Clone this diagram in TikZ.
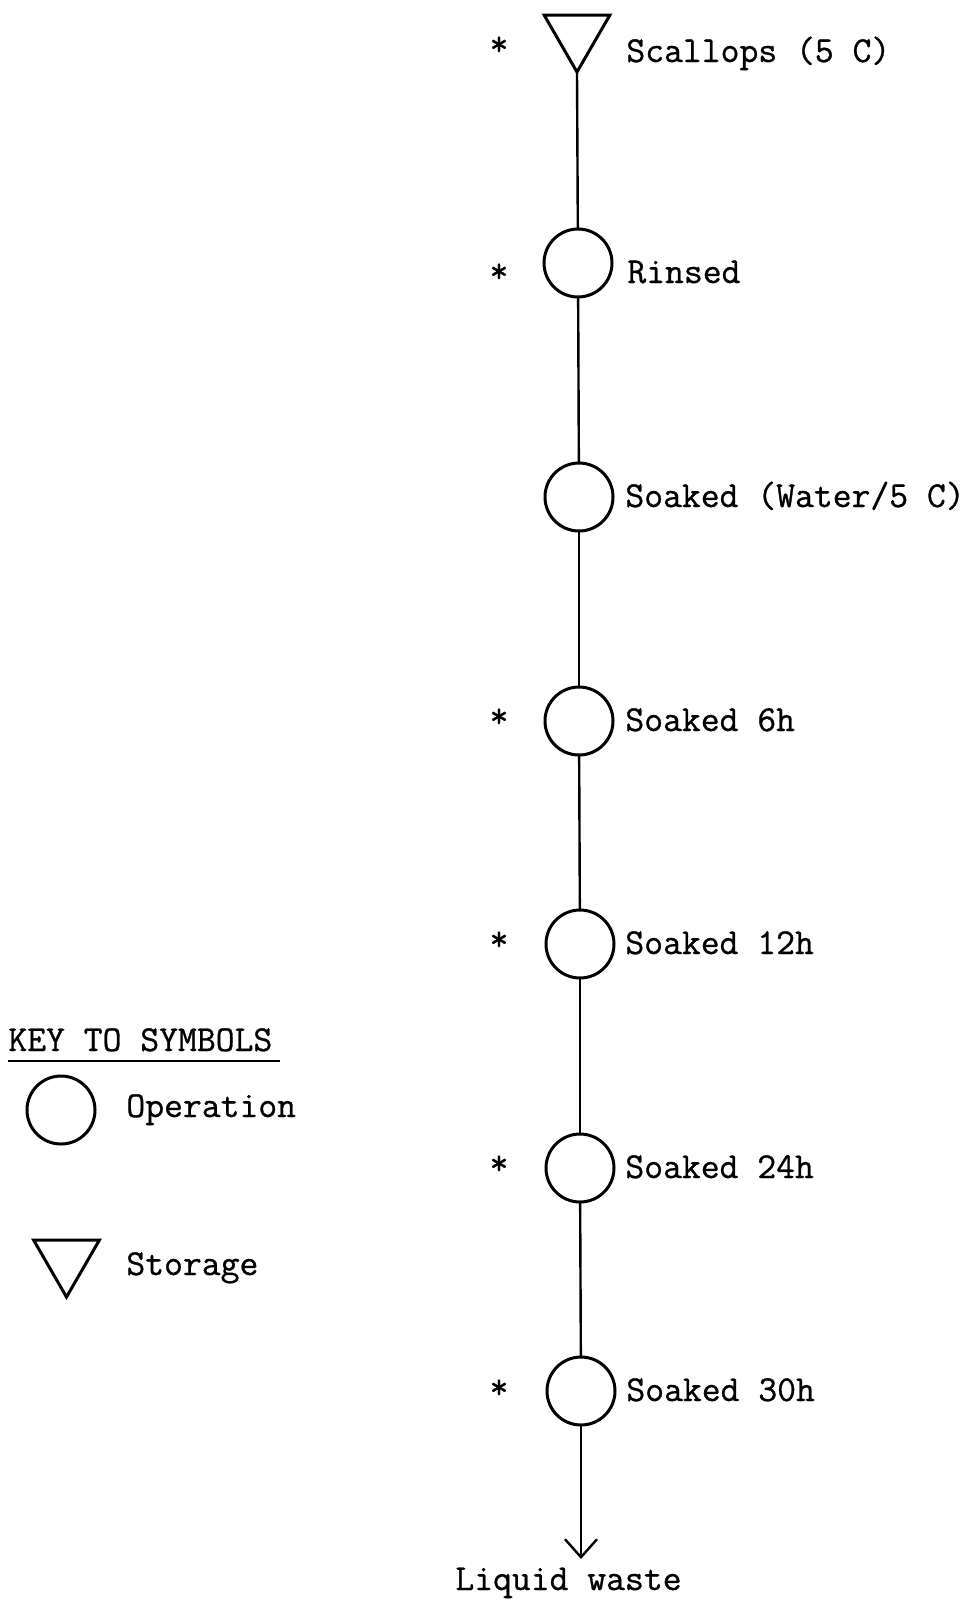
\documentclass[tikz,border=0pt]{standalone}
\usepackage{fontspec}
\setmonofont{Latin Modern Mono}[FakeBold=0.8]
\usetikzlibrary{arrows.meta,shapes.geometric}
\begin{document}
\begin{tikzpicture}[x=0.5pt,y=-0.5pt,
  op/.style={circle,draw,line width=1.5pt,minimum size=34pt,inner sep=0pt,outer sep=0pt},
  store/.style={regular polygon,regular polygon sides=3,shape border rotate=180,draw,line width=1.5pt,minimum size=38pt,inner sep=0pt,outer sep=0pt},
  lbl/.style={anchor=base west,inner sep=0pt,font=\ttfamily\bfseries\fontsize{18.3}{21}\selectfont},
  star/.style={anchor=center,inner sep=0pt,font=\ttfamily\bfseries\fontsize{18.3}{21}\selectfont},
  flow/.style={line width=1.2pt}]
\useasboundingbox (0,0) rectangle (969,1607);
% main chain
\node[store] (s0) at (577,34) {};
\node[op] (c1) at (578,263) {};
\node[op] (c2) at (579,497) {};
\node[op] (c3) at (579,721) {};
\node[op] (c4) at (580,944) {};
\node[op] (c5) at (580,1168) {};
\node[op] (c6) at (581,1391) {};
\coordinate (end) at (581,1559);
\draw[flow] (s0.south) -- (c1);
\draw[flow] (c1) -- (c2);
\draw[flow] (c2) -- (c3);
\draw[flow] (c3) -- (c4);
\draw[flow] (c4) -- (c5);
\draw[flow] (c5) -- (c6);
\draw[flow,-{Straight Barb[length=9pt,width=16pt,line width=1.2pt]}] (c6) -- (end);
% labels
\node[lbl] (t0) at (626,62) {Scallops (5 C)};
\node[lbl] (t1) at (627,283) {Rinsed};
\node[lbl] (t2) at (625,507) {Soaked (Water/5 C)};
\node[lbl] (t3) at (625,731) {Soaked 6h};
\node[lbl] (t4) at (625,954) {Soaked 12h};
\node[lbl] (t5) at (625,1178) {Soaked 24h};
\node[lbl] (t6) at (626,1401) {Soaked 30h};
\node[lbl] (tw) at (455,1590) {Liquid waste};
% stars
\node[star] (a0) at (499,46) {*};
\node[star] (a1) at (499,273) {*};
\node[star] (a3) at (499,718) {*};
\node[star] (a4) at (499,941) {*};
\node[star] (a5) at (499,1165) {*};
\node[star] (a6) at (499,1389) {*};
% key
\node[lbl] (key) at (8,1051) {KEY TO SYMBOLS};
\coordinate (ul1) at (8,1061);
\coordinate (ul2) at (280,1061);
\draw[line width=1.1pt] (ul1) -- (ul2);
\node[op] (kc) at (61,1110) {};
\node[lbl] (ko) at (126,1117) {Operation};
\node[store] (kt) at (66.5,1259) {};
\node[lbl] (ks) at (126,1275) {Storage};
\end{tikzpicture}
\end{document}
